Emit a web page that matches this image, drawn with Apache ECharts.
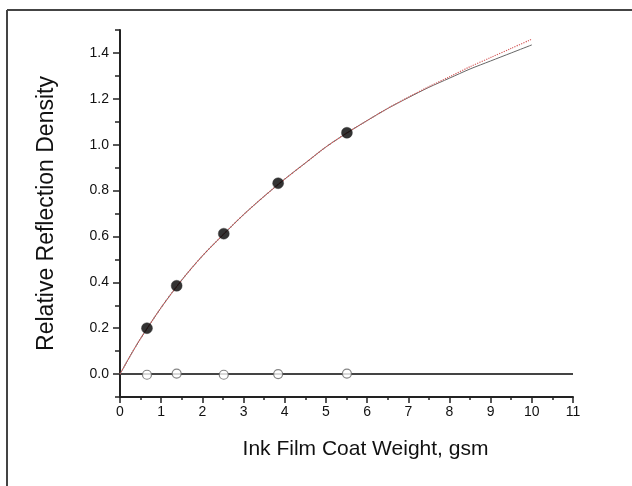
<!DOCTYPE html>
<html>
<head>
<meta charset="utf-8">
<script src="https://cdn.jsdelivr.net/npm/echarts@6/dist/echarts.min.js"></script>
<style>html,body{margin:0;padding:0;background:#fff}#c{width:632px;height:486px}</style>
</head>
<body>
<div id="c"></div>
<script>
// Measured data points (x: coat weight, gsm)
var coatWeight = [0.655, 1.376, 2.52, 3.84, 5.51];
var densityFilled = [0.20, 0.385, 0.612, 0.832, 1.052];
var densityOpen = [-0.003, 0.002, -0.003, 0.0, 0.002];

// Fitted curves
var curveX = [0, 0.25, 0.5, 1, 1.5, 2, 2.5, 3, 3.5, 4, 4.5, 5, 5.5, 6, 6.5, 7, 7.5, 8, 8.5, 9, 9.5, 10];
var curveRed = [0, 0.08, 0.155, 0.29, 0.41, 0.515, 0.607, 0.695, 0.775, 0.85, 0.92, 0.99, 1.05, 1.105, 1.158, 1.207, 1.253, 1.296, 1.34, 1.38, 1.42, 1.46];
var curveGray = [0, 0.08, 0.155, 0.29, 0.41, 0.515, 0.607, 0.695, 0.775, 0.85, 0.92, 0.99, 1.05, 1.105, 1.158, 1.205, 1.25, 1.29, 1.33, 1.365, 1.40, 1.435];

// Baseline at zero
var baseX = [0, 11];
var baseY = [0, 0];

// Tick labels
var yLabelValues = [0, 0.2, 0.4, 0.6, 0.8, 1.0, 1.2, 1.4];

function zip(a, b) { return a.map(function (v, i) { return [v, b[i]]; }); }

var chart = echarts.init(document.getElementById('c'), null, {renderer: 'canvas'});
var font = 'Liberation Sans, Arial, sans-serif';
chart.setOption({
  animation: false,
  backgroundColor: '#fff',
  graphic: [
    {type: 'line', shape: {x1: 7, y1: 10, x2: 632, y2: 10}, style: {stroke: '#444', lineWidth: 2}},
    {type: 'line', shape: {x1: 7, y1: 10, x2: 7, y2: 486}, style: {stroke: '#444', lineWidth: 2}}
  ],
  grid: {left: 120, right: 59, top: 30, bottom: 89},
  xAxis: {
    type: 'value', min: 0, max: 11, interval: 1,
    name: 'Ink Film Coat Weight, gsm', nameLocation: 'middle', nameGap: 42,
    nameTextStyle: {fontFamily: font, fontSize: 21, color: '#111', padding: [0, 0, 0, 38]},
    axisLine: {show: true, onZero: false, lineStyle: {color: '#222', width: 2}},
    axisTick: {show: true, length: 6, lineStyle: {color: '#222', width: 1.5}},
    minorTick: {show: true, splitNumber: 2, length: 3, lineStyle: {color: '#222', width: 1.5}},
    axisLabel: {fontFamily: font, fontSize: 14, color: '#111', margin: 8},
    splitLine: {show: false}
  },
  yAxis: [{
    type: 'value', min: -0.1, max: 1.5, position: 'left',
    name: 'Relative Reflection Density', nameLocation: 'middle', nameGap: 62,
    nameTextStyle: {fontFamily: font, fontSize: 23, color: '#111'},
    axisLine: {show: true, onZero: false, lineStyle: {color: '#222', width: 2}},
    axisTick: {show: true, length: 7, customValues: yLabelValues, lineStyle: {color: '#222', width: 1.5}},
    axisLabel: {fontFamily: font, fontSize: 14, color: '#111', margin: 11, customValues: yLabelValues,
      formatter: function (v) { return v.toFixed(1); }},
    splitLine: {show: false}
  }, {
    type: 'value', min: -0.1, max: 1.5, interval: 0.1, position: 'left', offset: 0,
    axisLine: {show: false},
    axisTick: {show: true, length: 5, lineStyle: {color: '#222', width: 1.5}},
    axisLabel: {show: false},
    splitLine: {show: false}
  }],
  series: [
    {type: 'line', data: zip(baseX, baseY), showSymbol: false, symbol: 'none',
      lineStyle: {color: '#444', width: 2}, z: 1},
    {type: 'line', data: zip(curveX, curveGray), smooth: 0.3, symbol: 'none',
      lineStyle: {color: '#666', width: 1}, z: 2},
    {type: 'line', data: zip(curveX, curveRed), smooth: 0.3, symbol: 'none',
      lineStyle: {color: '#d45a5a', width: 1.2, type: 'dotted'}, z: 3},
    {type: 'scatter', data: zip(coatWeight, densityOpen), symbol: 'circle', symbolSize: 9,
      itemStyle: {color: '#fff', borderColor: '#666', borderWidth: 1.2}, z: 4},
    {type: 'scatter', data: zip(coatWeight, densityFilled), symbol: 'circle', symbolSize: 11,
      itemStyle: {color: '#000', borderColor: '#333', borderWidth: 0.5}, z: 5}
  ]
});
</script>
</body>
</html>
